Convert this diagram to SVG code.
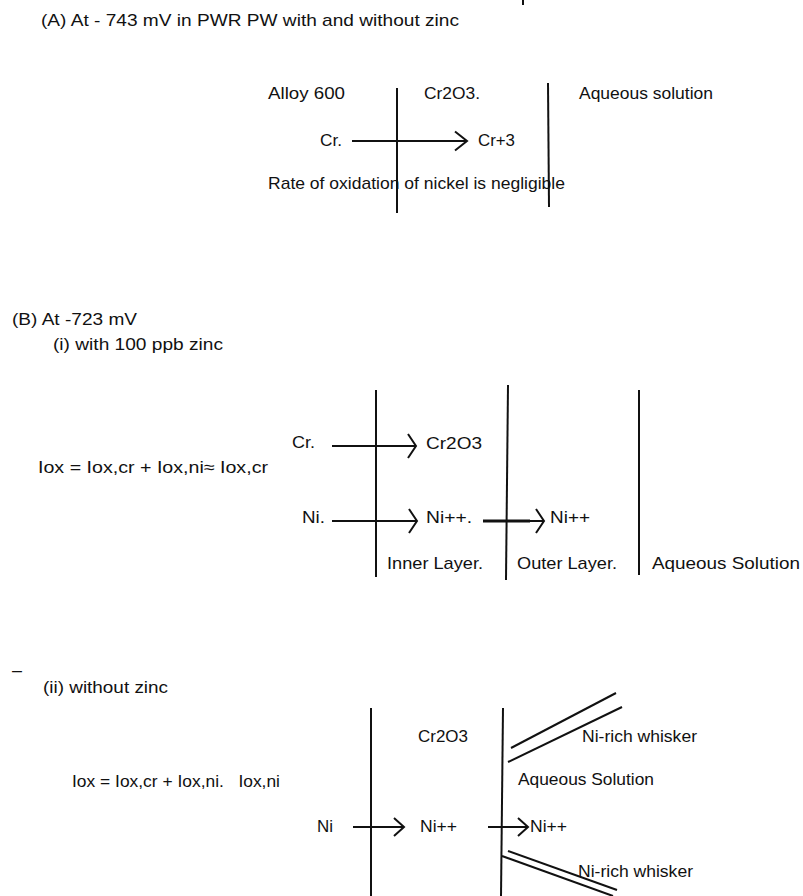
<svg xmlns="http://www.w3.org/2000/svg" width="803" height="896" viewBox="0 0 803 896">
<style>
text{font-family:"Liberation Sans",Arial,sans-serif;font-size:17px;fill:#111}
.b{stroke:#111;stroke-width:2;fill:none}
.c{stroke:#111;stroke-width:2;fill:none}
.w{stroke:#111;stroke-width:2;fill:none}
</style>
<defs>
<marker id="mA" markerUnits="userSpaceOnUse" viewBox="-14 -12 16 24" markerWidth="16" markerHeight="24" refX="0" refY="0" orient="auto"><path d="M-12,-9.5 L0,0 L-12,9.5" fill="none" stroke="#111" stroke-width="2"/></marker>
<marker id="mB" markerUnits="userSpaceOnUse" viewBox="-14 -14 16 28" markerWidth="16" markerHeight="28" refX="0" refY="0" orient="auto"><path d="M-8,-12 L0,0 L-8,12" fill="none" stroke="#111" stroke-width="2"/></marker>
<marker id="mC" markerUnits="userSpaceOnUse" viewBox="-14 -12 16 24" markerWidth="16" markerHeight="24" refX="0" refY="0" orient="auto"><path d="M-10,-9 L0,0 L-10,9" fill="none" stroke="#111" stroke-width="2"/></marker>
</defs>
<rect width="803" height="896" fill="#fff"/>
<line x1="523" y1="0" x2="523" y2="5" class="b"/>

<!-- Section A -->
<g id="titleA"><text x="41" y="26" textLength="418" lengthAdjust="spacingAndGlyphs">(A) At - 743 mV in PWR PW with and without zinc</text></g>
<g id="A-alloy"><text x="268" y="99" textLength="77" lengthAdjust="spacingAndGlyphs">Alloy 600</text></g>
<g id="A-oxide"><text x="424" y="99" textLength="56" lengthAdjust="spacingAndGlyphs">Cr2O3.</text></g>
<g id="A-aq"><text x="579" y="99" textLength="134" lengthAdjust="spacingAndGlyphs">Aqueous solution</text></g>
<g id="A-cr"><text x="320" y="146" textLength="22" lengthAdjust="spacingAndGlyphs">Cr.</text></g>
<g id="A-cr3"><text x="478" y="146" textLength="37" lengthAdjust="spacingAndGlyphs">Cr+3</text></g>
<g id="A-note"><text x="268" y="189" textLength="297" lengthAdjust="spacingAndGlyphs">Rate of oxidation of nickel is negligible</text></g>
<g id="A-interfaces">
<line x1="397" y1="88" x2="397" y2="213" class="b"/>
<line x1="548" y1="83" x2="549" y2="207" class="b"/>
</g>

<!-- Section B(i) -->
<g id="titleB"><text x="12" y="325" textLength="125" lengthAdjust="spacingAndGlyphs">(B) At -723 mV</text></g>
<g id="B1-title"><text x="53" y="350" textLength="170" lengthAdjust="spacingAndGlyphs">(i) with 100 ppb zinc</text></g>
<g id="B1-eq"><text x="38" y="473" textLength="230" lengthAdjust="spacingAndGlyphs">Iox = Iox,cr + Iox,ni≈ Iox,cr</text></g>
<g id="B1-cr"><text x="292" y="448" textLength="23" lengthAdjust="spacingAndGlyphs">Cr.</text></g>
<g id="B1-cr2o3"><text x="426" y="449" textLength="56" lengthAdjust="spacingAndGlyphs">Cr2O3</text></g>
<g id="B1-ni"><text x="302" y="523" textLength="23" lengthAdjust="spacingAndGlyphs">Ni.</text></g>
<g id="B1-ni-inner"><text x="426" y="523" textLength="46" lengthAdjust="spacingAndGlyphs">Ni++.</text></g>
<g id="B1-ni-outer"><text x="550" y="523" textLength="40" lengthAdjust="spacingAndGlyphs">Ni++</text></g>
<g id="B1-inner"><text x="387" y="569" textLength="96" lengthAdjust="spacingAndGlyphs">Inner Layer.</text></g>
<g id="B1-outer"><text x="517" y="569" textLength="100" lengthAdjust="spacingAndGlyphs">Outer Layer.</text></g>
<g id="B1-aq"><text x="652" y="569" textLength="148" lengthAdjust="spacingAndGlyphs">Aqueous Solution</text></g>
<g id="B1-interfaces">
<line x1="376" y1="390" x2="376" y2="577" class="b"/>
<line x1="508" y1="385" x2="506" y2="580" class="b"/>
<line x1="639" y1="390" x2="639" y2="575" class="b"/>
</g>

<!-- Section B(ii) -->
<g id="dash"><text x="12" y="676" textLength="10" lengthAdjust="spacingAndGlyphs">–</text></g>
<g id="B2-title"><text x="43" y="693" textLength="125" lengthAdjust="spacingAndGlyphs">(ii) without zinc</text></g>
<g id="B2-eq"><text x="72" y="787" textLength="208" lengthAdjust="spacingAndGlyphs" xml:space="preserve">Iox = Iox,cr + Iox,ni.   Iox,ni</text></g>
<g id="B2-cr2o3"><text x="418" y="742" textLength="50" lengthAdjust="spacingAndGlyphs">Cr2O3</text></g>
<g id="B2-whisker-top"><text x="582" y="742" textLength="115" lengthAdjust="spacingAndGlyphs">Ni-rich whisker</text>
<line x1="511" y1="748" x2="616" y2="693" class="w"/>
<line x1="508" y1="762" x2="622" y2="707" class="w"/>
</g>
<g id="B2-aq"><text x="518" y="785" textLength="136" lengthAdjust="spacingAndGlyphs">Aqueous Solution</text></g>
<g id="B2-ni"><text x="317" y="832" textLength="16" lengthAdjust="spacingAndGlyphs">Ni</text></g>
<g id="B2-ni-mid"><text x="420" y="832" textLength="37" lengthAdjust="spacingAndGlyphs">Ni++</text></g>
<g id="B2-ni-out"><text x="530" y="832" textLength="37" lengthAdjust="spacingAndGlyphs">Ni++</text></g>
<g id="B2-whisker-bottom">
<line x1="508" y1="851" x2="617" y2="890" class="w"/>
<line x1="502" y1="856" x2="613" y2="896" class="w"/>
<text x="578" y="877" textLength="115" lengthAdjust="spacingAndGlyphs">Ni-rich whisker</text>
</g>
<g id="B2-interfaces">
<line x1="371" y1="708" x2="371" y2="896" class="b"/>
<line x1="503" y1="708" x2="501" y2="896" class="b"/>
</g>

<!-- connectors -->
<g id="connectors">
<line x1="352" y1="141" x2="467" y2="141" class="c" marker-end="url(#mA)"/>
<line x1="332" y1="446" x2="416" y2="446" class="c" marker-end="url(#mB)"/>
<line x1="332" y1="521" x2="417" y2="521" class="c" marker-end="url(#mB)"/>
<line x1="483" y1="521" x2="544" y2="521" class="c" marker-end="url(#mB)"/>
<line x1="483" y1="521" x2="530" y2="521" stroke="#111" stroke-width="3"/>
<line x1="353" y1="827" x2="404" y2="827" class="c" marker-end="url(#mC)"/>
<line x1="488" y1="827" x2="528" y2="827" class="c" marker-end="url(#mC)"/>
</g>
</svg>
